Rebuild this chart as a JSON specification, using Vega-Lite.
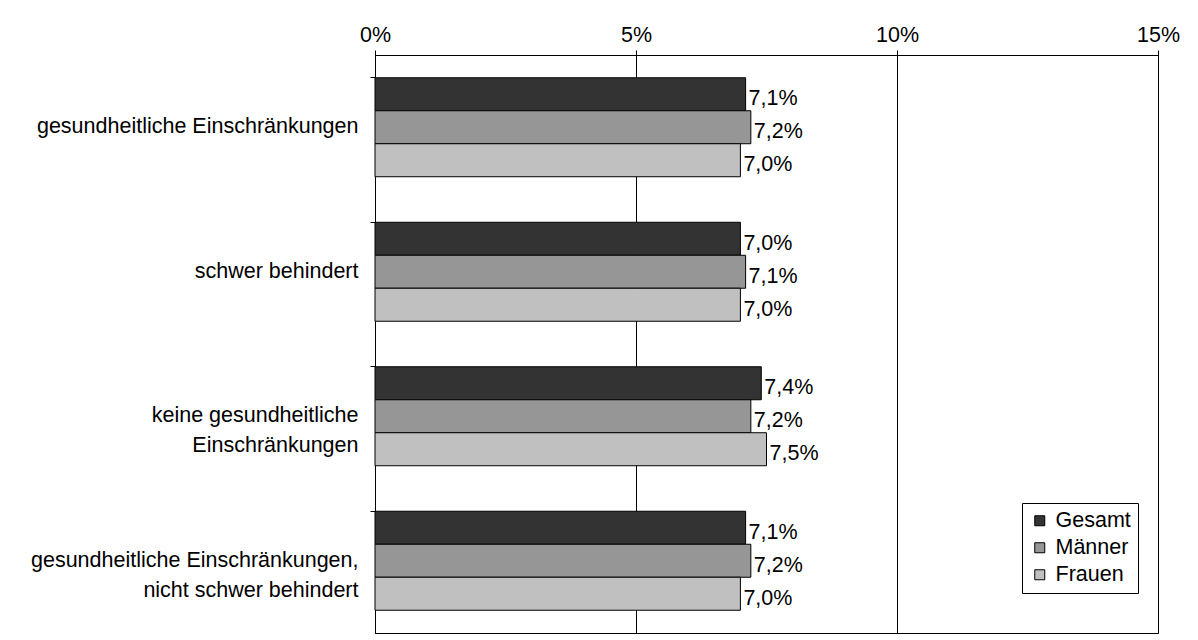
{
  "$schema": "https://vega.github.io/schema/vega-lite/v6.json",
  "width": 783,
  "height": 578,
  "autosize": {"type": "none"},
  "padding": {"left": 375, "top": 55, "right": 40, "bottom": 7},
  "background": "white",
  "config": {
    "locale": {"number": {"decimal": ",", "thousands": ".", "grouping": [3], "currency": ["", " €"]}},
    "font": "Liberation Sans",
    "view": {"stroke": "black", "strokeWidth": 1},
    "axis": {"labelFont": "Liberation Sans", "labelFontSize": 21.5, "labelColor": "black", "domainColor": "black", "tickColor": "black", "title": null}
  },
  "data": {
    "values": [
      {"category": "gesundheitliche Einschränkungen", "series": "Gesamt", "value": 0.071},
      {"category": "gesundheitliche Einschränkungen", "series": "Männer", "value": 0.072},
      {"category": "gesundheitliche Einschränkungen", "series": "Frauen", "value": 0.070},
      {"category": "schwer behindert", "series": "Gesamt", "value": 0.070},
      {"category": "schwer behindert", "series": "Männer", "value": 0.071},
      {"category": "schwer behindert", "series": "Frauen", "value": 0.070},
      {"category": "keine gesundheitliche|Einschränkungen", "series": "Gesamt", "value": 0.074},
      {"category": "keine gesundheitliche|Einschränkungen", "series": "Männer", "value": 0.072},
      {"category": "keine gesundheitliche|Einschränkungen", "series": "Frauen", "value": 0.075},
      {"category": "gesundheitliche Einschränkungen,|nicht schwer behindert", "series": "Gesamt", "value": 0.071},
      {"category": "gesundheitliche Einschränkungen,|nicht schwer behindert", "series": "Männer", "value": 0.072},
      {"category": "gesundheitliche Einschränkungen,|nicht schwer behindert", "series": "Frauen", "value": 0.070}
    ]
  },
  "layer": [
    {
      "mark": {"type": "bar", "stroke": "black", "strokeWidth": 1},
      "encoding": {
        "y": {
          "field": "category", "type": "nominal",
          "sort": ["gesundheitliche Einschränkungen", "schwer behindert", "keine gesundheitliche|Einschränkungen", "gesundheitliche Einschränkungen,|nicht schwer behindert"],
          "scale": {"paddingInner": 0.315, "paddingOuter": 0.1575},
          "axis": {"orient": "left", "ticks": false, "domain": true, "labelPadding": 17, "labelAlign": "right", "labelExpr": "split(datum.label, '|')", "labelLineHeight": 30, "labelLimit": 400, "labelDy": 5}
        },
        "yOffset": {"field": "series", "type": "nominal", "sort": ["Gesamt", "Männer", "Frauen"], "scale": {"paddingInner": 0, "paddingOuter": 0}},
        "x": {
          "field": "value", "type": "quantitative",
          "scale": {"domain": [0, 0.15], "nice": false, "zero": true},
          "axis": {"orient": "top", "values": [0, 0.05, 0.1, 0.15], "format": ".0%", "grid": true, "gridColor": "black", "gridOpacity": 1, "tickSize": 5, "labelPadding": 4, "labelFlush": false}
        },
        "color": {
          "field": "series", "type": "nominal",
          "scale": {"domain": ["Gesamt", "Männer", "Frauen"], "range": ["#333333", "#969696", "#c0c0c0"]},
          "legend": {"orient": "none", "legendX": 647, "legendY": 448, "title": null, "strokeColor": "black", "fillColor": "white", "padding": 7, "labelFont": "Liberation Sans", "labelFontSize": 21.5, "labelColor": "black", "symbolType": "square", "symbolSize": 100, "symbolStrokeColor": "black", "symbolStrokeWidth": 1, "symbolOpacity": 1, "rowPadding": 4, "labelOffset": 5}
        }
      }
    },
    {
      "mark": {"type": "text", "align": "left", "baseline": "middle", "dx": 3, "dy": 5, "fontSize": 21.5, "font": "Liberation Sans", "color": "black"},
      "encoding": {
        "y": {
          "field": "category", "type": "nominal",
          "sort": ["gesundheitliche Einschränkungen", "schwer behindert", "keine gesundheitliche|Einschränkungen", "gesundheitliche Einschränkungen,|nicht schwer behindert"],
          "axis": {"orient": "left", "labels": false, "ticks": true, "tickSize": 5, "bandPosition": 0, "domain": false, "grid": false}
        },
        "yOffset": {"field": "series", "type": "nominal", "sort": ["Gesamt", "Männer", "Frauen"]},
        "x": {"field": "value", "type": "quantitative", "scale": {"domain": [0, 0.15], "nice": false}},
        "text": {"field": "value", "type": "quantitative", "format": ".1%"}
      }
    }
  ],
  "resolve": {"axis": {"y": "independent"}}
}
